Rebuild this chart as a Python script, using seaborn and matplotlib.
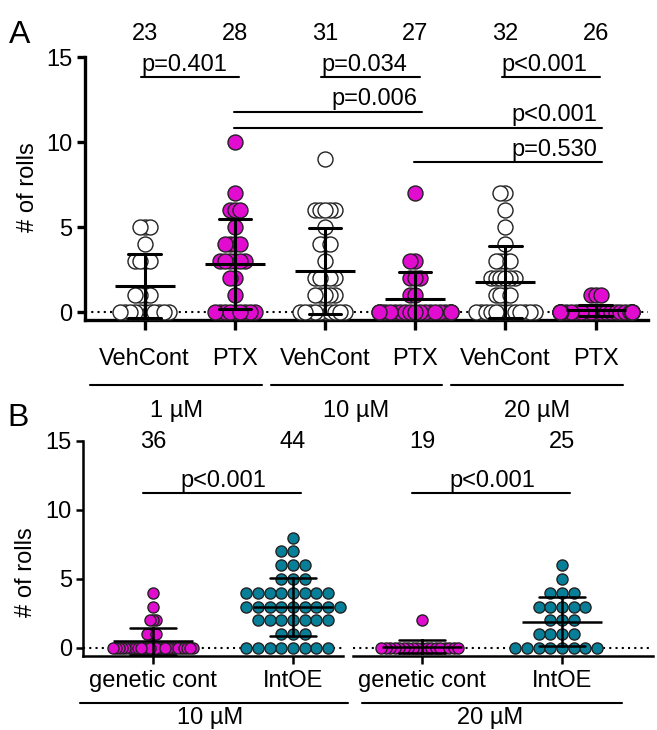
import numpy as np
import pandas as pd
import matplotlib
matplotlib.use("Agg")
import matplotlib.pyplot as plt
import seaborn as sns
from matplotlib.transforms import blended_transform_factory as btf

sns.set_theme(style="ticks")
FONT = ["Liberation Sans", "DejaVu Sans"]
plt.rcParams["font.family"] = FONT
plt.rcParams.update({"text.color": "black", "axes.edgecolor": "black",
                     "xtick.color": "black", "ytick.color": "black",
                     "axes.labelcolor": "black"})

# ---------------- Panel A data ----------------
a_order = ["VehCont 1", "PTX 1", "VehCont 10", "PTX 10", "VehCont 20", "PTX 20"]
a_ticklabels = ["VehCont", "PTX", "VehCont", "PTX", "VehCont", "PTX"]
a_conc = ["1 µM", "10 µM", "20 µM"]
a_veh1 = [5, 5, 5, 4, 3, 3, 3, 3, 1, 1, 1, 1, 0, 0, 0, 0, 0, 0, 0, 0, 0, 0, 0]
a_ptx1 = [10, 7, 6, 6, 6, 5, 4, 4, 4, 4, 3, 3, 3, 3, 3, 3, 2, 2, 1,
          0, 0, 0, 0, 0, 0, 0, 0, 0]
a_veh10 = [9, 6, 6, 6, 6, 6, 5, 4, 4, 4, 3, 2, 2, 2, 2, 2, 1, 1, 1, 1, 1,
           0, 0, 0, 0, 0, 0, 0, 0, 0, 0]
a_ptx10 = [7, 3, 3, 2, 2, 2, 1, 1,
           0, 0, 0, 0, 0, 0, 0, 0, 0, 0, 0, 0, 0, 0, 0, 0, 0, 0, 0]
a_veh20 = [7, 7, 6, 5, 4, 3, 3, 3, 3, 2, 2, 2, 2, 2, 2, 1, 1, 1, 1,
           0, 0, 0, 0, 0, 0, 0, 0, 0, 0, 0, 0, 0]
a_ptx20 = [1, 1, 1, 0, 0, 0, 0, 0, 0, 0, 0, 0, 0, 0, 0, 0, 0, 0, 0, 0, 0, 0, 0, 0, 0, 0]
a_values = [a_veh1, a_ptx1, a_veh10, a_ptx10, a_veh20, a_ptx20]
# p-value comparisons: (group i, group j, label)
a_pvals_row1 = [(0, 1, "p=0.401"), (2, 3, "p=0.034"), (4, 5, "p<0.001")]
a_pvals_long = [(1, 3, "p=0.006"), (1, 5, "p<0.001"), (3, 5, "p=0.530")]

# ---------------- Panel B data ----------------
b_order_left = ["genetic cont 10", "IntOE 10"]
b_order_right = ["genetic cont 20", "IntOE 20"]
b_ticklabels = ["genetic cont", "IntOE"]
b_conc = ["10 µM", "20 µM"]
b_gc10 = [4, 3, 2, 2, 2, 1, 1, 1, 1] + [0] * 27
b_oe10 = [8, 7, 7, 6, 6, 6, 5, 5, 5, 4, 4, 4, 4, 4, 4, 4, 4,
          3, 3, 3, 3, 3, 3, 3, 3, 3, 2, 2, 2, 2, 2, 2, 2, 1, 1, 1,
          0, 0, 0, 0, 0, 0, 0, 0]
b_gc20 = [2] + [0] * 18
b_oe20 = [6, 5, 4, 4, 4, 3, 3, 3, 3, 3, 2, 2, 2, 1, 1, 1, 1, 0, 0, 0, 0, 0, 0, 0, 0]
b_pval = "p<0.001"

WHITE = "#ffffff"
MAGENTA = "#e20bd0"
TEAL = "#077f98"


def make_df(names, values):
    return pd.DataFrame({"group": np.repeat(names, [len(v) for v in values]),
                         "rolls": np.concatenate(values).astype(float)})


dfA = make_df(a_order, a_values)
dfBL = make_df(b_order_left, [b_gc10, b_oe10])
dfBR = make_df(b_order_right, [b_gc20, b_oe20])

W, H = 657, 730
fig = plt.figure(figsize=(W / 100, H / 100), dpi=100)


def px_axes(l, t, r, b):
    return fig.add_axes([l / W, 1 - b / H, (r - l) / W, (b - t) / H])


axA = px_axes(85, 57, 648, 320)
axBL = px_axes(83, 441, 343, 656)
axBR = px_axes(353, 441, 653, 656)

FS = 17
colA = [WHITE, MAGENTA] * 3
colB = [MAGENTA, TEAL]


def draw_panel(ax, df, order, colors, lay_sizes, mean_w, capsize, lw):
    # one swarm call per group so each group gets its own packing density
    for g, col, ls in zip(order, colors, lay_sizes):
        sns.swarmplot(data=df[df["group"] == g], x="group", y="rolls", order=order,
                      color=col, size=ls, edgecolor="#222222", linewidth=0,
                      ax=ax, zorder=3)
    sns.pointplot(data=df, x="group", y="rolls", order=order, errorbar="sd",
                  capsize=capsize, color="black", markers="_", linestyles="none",
                  markersize=mean_w, markeredgewidth=lw, err_kws={"linewidth": lw},
                  ax=ax, zorder=5)
    ax.axhline(0, color="black", ls=(0, (1, 2.0)), lw=1.5, zorder=1)
    ax.set_xlabel("")
    ax.set_ylabel("")
    for s in ["top", "right"]:
        ax.spines[s].set_visible(False)
    ax.set_facecolor("none")


draw_panel(axA, dfA, a_order, colA, [3.4] * 6, 43, 0.36, 2.2)
draw_panel(axBL, dfBL, b_order_left, colB, [2.1, 8.0], 58, 0.33, 1.8)
draw_panel(axBR, dfBR, b_order_right, colB, [3.1, 8.0], 58, 0.33, 1.8)

# ---- Axes A styling ----
axA.set_xlim(-0.66, 5.58)
axA.set_ylim(-0.47, 15)
axA.set_yticks([0, 5, 10, 15])
axA.set_xticks(range(6))
axA.set_xticklabels(a_ticklabels)
for s in ["left", "bottom"]:
    axA.spines[s].set_linewidth(2.4)
axA.tick_params(axis="both", direction="out", length=6, width=2.4,
                labelsize=FS, colors="black", pad=3)
axA.tick_params(axis="x", length=7, pad=13)

for ax, lim in [(axBL, (-0.5, 1.357)), (axBR, (-0.493, 1.65))]:
    ax.set_xlim(*lim)
    ax.set_ylim(-0.58, 15)
    ax.set_xticks([0, 1])
    ax.set_xticklabels(b_ticklabels)
    ax.spines["bottom"].set_linewidth(1.8)
    ax.spines["left"].set_linewidth(1.8)
    ax.tick_params(axis="both", direction="out", length=5, width=1.8,
                   labelsize=FS, colors="black", pad=3)
    ax.tick_params(axis="x", length=6, pad=4)
axBL.set_yticks([0, 5, 10, 15])
axBR.spines["left"].set_visible(False)
axBR.tick_params(axis="y", left=False, labelleft=False)

# ---- Swarm: compute layout then enlarge markers ----
fig.canvas.draw()
for ax, big in [(axA, 10.8), (axBL, 8.0), (axBR, 8.0)]:
    for c in ax.collections:
        if "draw" in c.__dict__:
            del c.draw
        if len(c.get_offsets()):
            c.set_sizes([big ** 2])
            c.set_linewidth(1.0)
            c.set_clip_on(False)

# ---- Annotations A ----
for i, vals in enumerate(a_values):
    axA.text(i, 16.35, str(len(vals)), ha="center", va="center", fontsize=FS, clip_on=False)
for i, j, lab in a_pvals_row1:
    axA.plot([i - 0.04, j + 0.05], [13.8, 13.8], color="black", lw=1.5, clip_on=False)
    axA.text(i - 0.04, 13.88, lab, ha="left", va="bottom", fontsize=FS, clip_on=False)
for (i, j, lab), yl in zip(a_pvals_long, [11.78, 10.85, 8.8]):
    axA.plot([i - 0.01, j + 0.07], [yl, yl], color="black", lw=1.5, clip_on=False)
    axA.text(j + 0.02, yl + 0.08, lab, ha="right", va="bottom", fontsize=FS, clip_on=False)

trA = btf(axA.transData, axA.transAxes)
for k, lab in enumerate(a_conc):
    c = 2 * k + 0.35
    axA.plot([c - 0.95, c + 0.95], [-0.247, -0.247], color="black", lw=1.5,
             transform=trA, clip_on=False)
    axA.text(c, -0.345, lab, ha="center", va="center", fontsize=FS, transform=trA)

# ---- Annotations B ----
for ax, vals_list, conc, cx, (l0, l1) in [
        (axBL, [b_gc10, b_oe10], b_conc[0], 0.41, (-0.52, 1.39)),
        (axBR, [b_gc20, b_oe20], b_conc[1], 0.49, (-0.43, 1.43))]:
    for i, vals in enumerate(vals_list):
        ax.text(i, 14.9, str(len(vals)), ha="center", va="center", fontsize=FS, clip_on=False)
    ax.plot([-0.07, 1.06], [11.2, 11.2], color="black", lw=1.5, clip_on=False)
    ax.text(0.5, 11.3, b_pval, ha="center", va="bottom", fontsize=FS, clip_on=False)
    tr = btf(ax.transData, ax.transAxes)
    ax.plot([l0, l1], [-0.219, -0.219], color="black", lw=1.5, transform=tr, clip_on=False)
    ax.text(cx, -0.29, conc, ha="center", va="center", fontsize=FS, transform=tr)

# ---- Panel letters and y labels ----
fig.text(20 / W, 1 - 35 / H, "A", fontsize=23, ha="center", va="center")
fig.text(18 / W, 1 - 418 / H, "B", fontsize=23, ha="center", va="center")
fig.text(28 / W, 1 - 187 / H, "# of rolls", fontsize=FS, rotation=90, ha="center", va="center")
fig.text(26 / W, 1 - 572 / H, "# of rolls", fontsize=FS, rotation=90, ha="center", va="center")

fig.savefig("out.png", dpi=100)
